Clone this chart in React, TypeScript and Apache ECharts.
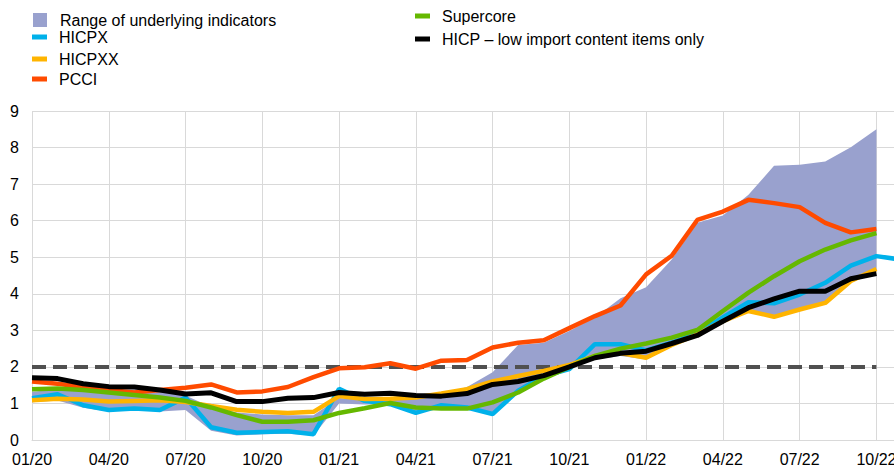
import React, { useEffect, useRef } from "react";
import * as echarts from "echarts";

const months = [
  "01/20", "02/20", "03/20", "04/20", "05/20", "06/20", "07/20", "08/20", "09/20", "10/20", "11/20", "12/20",
  "01/21", "02/21", "03/21", "04/21", "05/21", "06/21", "07/21", "08/21", "09/21", "10/21", "11/21", "12/21",
  "01/22", "02/22", "03/22", "04/22", "05/22", "06/22", "07/22", "08/22", "09/22", "10/22", "11/22",
];

const rangeLow = [
  1.03, 1.08, 0.88, 0.78, 0.82, 0.78, 0.82, 0.25, 0.12, 0.16, 0.17, 0.12,
  1.0, 0.97, 0.98, 0.72, 0.9, 0.86, 0.68, 1.28, 1.66, 1.94, 2.2, 2.3,
  2.2, 2.55, 2.85, 3.2, 3.5, 3.35, 3.55, 3.72, 4.3, 4.6, null,
];
const rangeHigh = [
  1.32, 1.38, 1.38, 1.35, 1.38, 1.33, 1.22, 0.9, 0.75, 0.7, 0.68, 0.68,
  1.15, 1.1, 1.12, 1.15, 1.25, 1.45, 1.85, 2.6, 2.66, 2.98, 3.35, 3.88,
  4.18, 4.94, 5.94, 6.14, 6.71, 7.5, 7.53, 7.62, 8.01, 8.5, null,
];
const hicpx = [
  1.14, 1.25, 0.95, 0.82, 0.86, 0.82, 1.16, 0.35, 0.2, 0.22, 0.24, 0.16,
  1.4, 1.07, 0.98, 0.74, 0.95, 0.89, 0.71, 1.35, 1.75, 1.94, 2.62, 2.62,
  2.45, 2.66, 2.92, 3.35, 3.77, 3.74, 3.98, 4.3, 4.77, 5.03, 4.93,
];
const hicpxx = [
  1.09, 1.13, 1.11, 1.05, 1.07, 1.09, 1.04, 0.93, 0.83, 0.77, 0.74, 0.77,
  1.2, 1.12, 1.13, 1.16, 1.27, 1.39, 1.6, 1.75, 1.89, 2.05, 2.3, 2.38,
  2.25, 2.6, 2.89, 3.25, 3.53, 3.37, 3.57, 3.75, 4.35, 4.68, null,
];
const pcci = [
  1.6, 1.54, 1.45, 1.37, 1.3, 1.37, 1.43, 1.52, 1.3, 1.33, 1.45, 1.72,
  1.96, 1.99, 2.1, 1.95, 2.17, 2.19, 2.53, 2.66, 2.73, 3.06, 3.39, 3.68,
  4.53, 5.04, 6.02, 6.25, 6.57, 6.48, 6.37, 5.94, 5.68, 5.77, null,
];
const supercore = [
  1.39, 1.41, 1.37, 1.3, 1.23, 1.16, 1.07, 0.89, 0.68, 0.5, 0.5, 0.54,
  0.74, 0.87, 1.01, 0.89, 0.86, 0.86, 1.03, 1.3, 1.68, 2.0, 2.3, 2.5,
  2.64, 2.8, 3.01, 3.53, 4.03, 4.48, 4.89, 5.21, 5.46, 5.66, null,
];
const lowImport = [
  1.7, 1.68, 1.54, 1.46, 1.45, 1.37, 1.26, 1.29, 1.05, 1.05, 1.14, 1.16,
  1.3, 1.25, 1.28, 1.22, 1.2, 1.27, 1.52, 1.6, 1.76, 2.0, 2.25, 2.37,
  2.43, 2.64, 2.86, 3.25, 3.62, 3.86, 4.07, 4.07, 4.41, 4.55, null,
];
const targetLevel = 2;
const yTicks = [0, 1, 2, 3, 4, 5, 6, 7, 8, 9];

const FONT = "'Liberation Sans', Arial, sans-serif";
const C_BAND = "#99A1CE";
const C_BLUE = "#00B1EA";
const C_YELLOW = "#FFB400";
const C_ORANGE = "#FF4B00";
const C_GREEN = "#65B800";
const C_BLACK = "#000000";

function legendItem(name: string, left: number, top: number, square: boolean) {
  return {
    data: [name],
    left,
    top,
    orient: "vertical",
    padding: 0,
    icon: "rect",
    itemWidth: square ? 14 : 15,
    itemHeight: square ? 14 : 5,
    selectedMode: false,
    textStyle: { fontSize: 16, fontFamily: FONT, color: "#000", padding: [0, 0, 0, square ? 8 : 7] },
  };
}

export default function App() {
  const ref = useRef<HTMLDivElement>(null);
  useEffect(() => {
    if (!ref.current) return;
    const chart = echarts.init(ref.current, null, { renderer: "svg" });
    const diff = rangeHigh.map((h, i) => (h == null || rangeLow[i] == null ? null : +(h - (rangeLow[i] as number)).toFixed(3)));
    const target = months.map((_, i) => (i <= 33 ? targetLevel : null));
    const lineSeries = (name: string, data: (number | null)[], color: string, width: number, z: number) => ({
      name,
      type: "line",
      data,
      color,
      symbol: "none",
      lineStyle: { color, width },
      z,
    });
    chart.setOption({
      animation: false,
      grid: { left: 32, right: 0, top: 111, bottom: 26, containLabel: false },
      legend: [
        legendItem("Range of underlying indicators", 33, 12, true),
        legendItem("HICPX", 32, 29, false),
        legendItem("HICPXX", 32, 51, false),
        legendItem("PCCI", 32, 71, false),
        legendItem("Supercore", 415, 8, false),
        legendItem("HICP \u2013 low import content items only", 415, 31, false),
      ],
      xAxis: {
        type: "category",
        data: months,
        boundaryGap: false,
        axisLine: { show: true, lineStyle: { color: "#D9D9D9", width: 1 } },
        axisTick: { show: false },
        axisLabel: { interval: 2, margin: 11, fontSize: 16, fontFamily: FONT, color: "#000" },
        splitLine: { show: true, interval: 2, lineStyle: { color: "#D9D9D9", width: 1 } },
      },
      yAxis: {
        type: "value",
        min: yTicks[0],
        max: yTicks[yTicks.length - 1],
        interval: 1,
        axisLine: { show: false },
        axisTick: { show: false },
        axisLabel: { margin: 13, fontSize: 16, fontFamily: FONT, color: "#000" },
        splitLine: { show: true, lineStyle: { color: "#D9D9D9", width: 1 } },
      },
      series: [
        {
          name: "bandBase",
          type: "line",
          stack: "band",
          data: rangeLow,
          symbol: "none",
          lineStyle: { opacity: 0, width: 0 },
          z: 1,
        },
        {
          name: "Range of underlying indicators",
          type: "line",
          stack: "band",
          data: diff,
          symbol: "none",
          color: C_BAND,
          lineStyle: { opacity: 0, width: 0 },
          areaStyle: { color: C_BAND, opacity: 1 },
          z: 1,
        },
        {
          name: "target",
          type: "line",
          data: target,
          symbol: "none",
          lineStyle: { color: "#505050", width: 4, type: [14, 7] },
          z: 2,
        },
        lineSeries("HICPX", hicpx, C_BLUE, 4.5, 3),
        lineSeries("HICPXX", hicpxx, C_YELLOW, 4.5, 4),
        lineSeries("PCCI", pcci, C_ORANGE, 4.5, 5),
        lineSeries("Supercore", supercore, C_GREEN, 4.5, 6),
        lineSeries("HICP \u2013 low import content items only", lowImport, C_BLACK, 5, 7),
      ],
    });
    return () => chart.dispose();
  }, []);
  return (
    <div style={{ position: "absolute", left: 0, top: 0, width: 894, height: 467, overflow: "hidden", background: "#fff" }}>
      <div ref={ref} style={{ position: "absolute", left: 0, top: 0, width: 902, height: 467 }} />
    </div>
  );
}
